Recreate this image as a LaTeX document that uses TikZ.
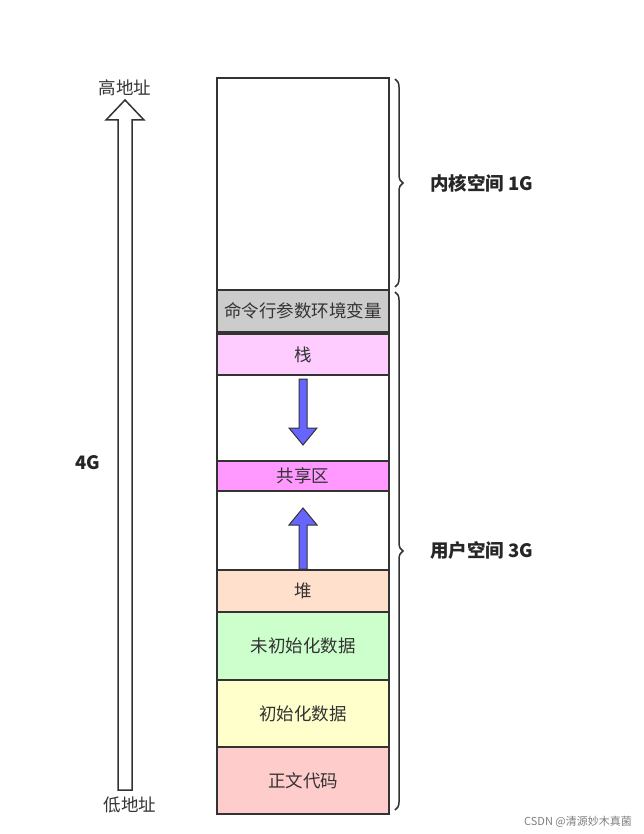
\documentclass[tikz,border=0pt]{standalone}
\usepackage{fontspec}
\setmainfont{Noto Sans CJK SC}
\usetikzlibrary{decorations.pathreplacing}
\begin{document}
\begin{tikzpicture}[x=1pt,y=-1pt,
  seg/.style={draw=black!80,line width=1.2pt},
  lbl/.style={font=\fontsize{17.5}{19}\selectfont,text=black!80},
  bl/.style={font=\bfseries\fontsize{18.5}{20}\selectfont,text=black!85},
  blu/.style={draw=black!80,fill=blue!60,line width=1pt},
  brace/.style={draw=black!80,line width=1.5pt,decorate,decoration={brace,amplitude=8pt}}]
\useasboundingbox (0,0) rectangle (644,834);
\fill[white] (0,0) rectangle (644,834);
\definecolor{cgray}{HTML}{CCCCCC}
\definecolor{cstack}{HTML}{FFCCFF}
\definecolor{cshare}{HTML}{FF99FF}
\definecolor{cheap}{HTML}{FFE0CC}
\definecolor{cbss}{HTML}{CCFFCC}
\definecolor{cdata}{HTML}{FFFFCC}
\definecolor{ctext}{HTML}{FFCCCC}
\node[seg,fill=white,minimum width=172pt,minimum height=212pt,inner sep=0] (k) at (303,184) {};
\node[seg,fill=cgray,minimum width=172pt,minimum height=42pt,inner sep=0,lbl] (env) at (303,311) {命令行参数环境变量};
\node[seg,fill=cstack,minimum width=172pt,minimum height=41pt,inner sep=0,lbl] (st) at (303,354.5) {栈};
\node[seg,fill=white,minimum width=172pt,minimum height=86pt,inner sep=0] (g1) at (303,418) {};
\node[seg,fill=cshare,minimum width=172pt,minimum height=30pt,inner sep=0,lbl] (sh) at (303,476) {共享区};
\node[seg,fill=white,minimum width=172pt,minimum height=79pt,inner sep=0] (g2) at (303,530.5) {};
\node[seg,fill=cheap,minimum width=172pt,minimum height=42pt,inner sep=0,lbl] (hp) at (303,591) {堆};
\node[seg,fill=cbss,minimum width=172pt,minimum height=68pt,inner sep=0,lbl] (bss) at (303,646) {未初始化数据};
\node[seg,fill=cdata,minimum width=172pt,minimum height=67pt,inner sep=0,lbl] (dat) at (303,713.5) {初始化数据};
\node[seg,fill=ctext,minimum width=172pt,minimum height=67pt,inner sep=0,lbl] (txt) at (303,780.5) {正文代码};
% blue arrows
\draw[blu] (299,379) -- (307,379) -- (307,428) -- (317,428) -- (303,445) -- (289,428) -- (299,428) -- cycle;
\draw[blu] (299,569) -- (307,569) -- (307,525) -- (317,525) -- (303,508) -- (289,525) -- (299,525) -- cycle;
% braces
\draw[brace] (395,79) -- (395,287);
\draw[brace] (395,292) -- (395,810);
\node[bl,anchor=west,inner sep=1pt] (kl) at (429,183) {内核空间 1G};
\node[bl,anchor=west,inner sep=1pt] (ul) at (429,550) {用户空间 3G};
% address arrow
\draw[draw=black!80,fill=white,line width=1.5pt] (118,790) -- (132,790) -- (132,120) -- (144,120) -- (125,100) -- (106,120) -- (118,120) -- cycle;
\node[lbl] (hi) at (125,88) {高地址};
\node[lbl] (lo) at (130,805) {低地址};
\node[bl] (g4) at (88,463) {4G};
\node[font=\fontsize{11}{12}\selectfont,text=black!50] (wm) at (578,822) {CSDN @清源妙木真菌};
\end{tikzpicture}
\end{document}
